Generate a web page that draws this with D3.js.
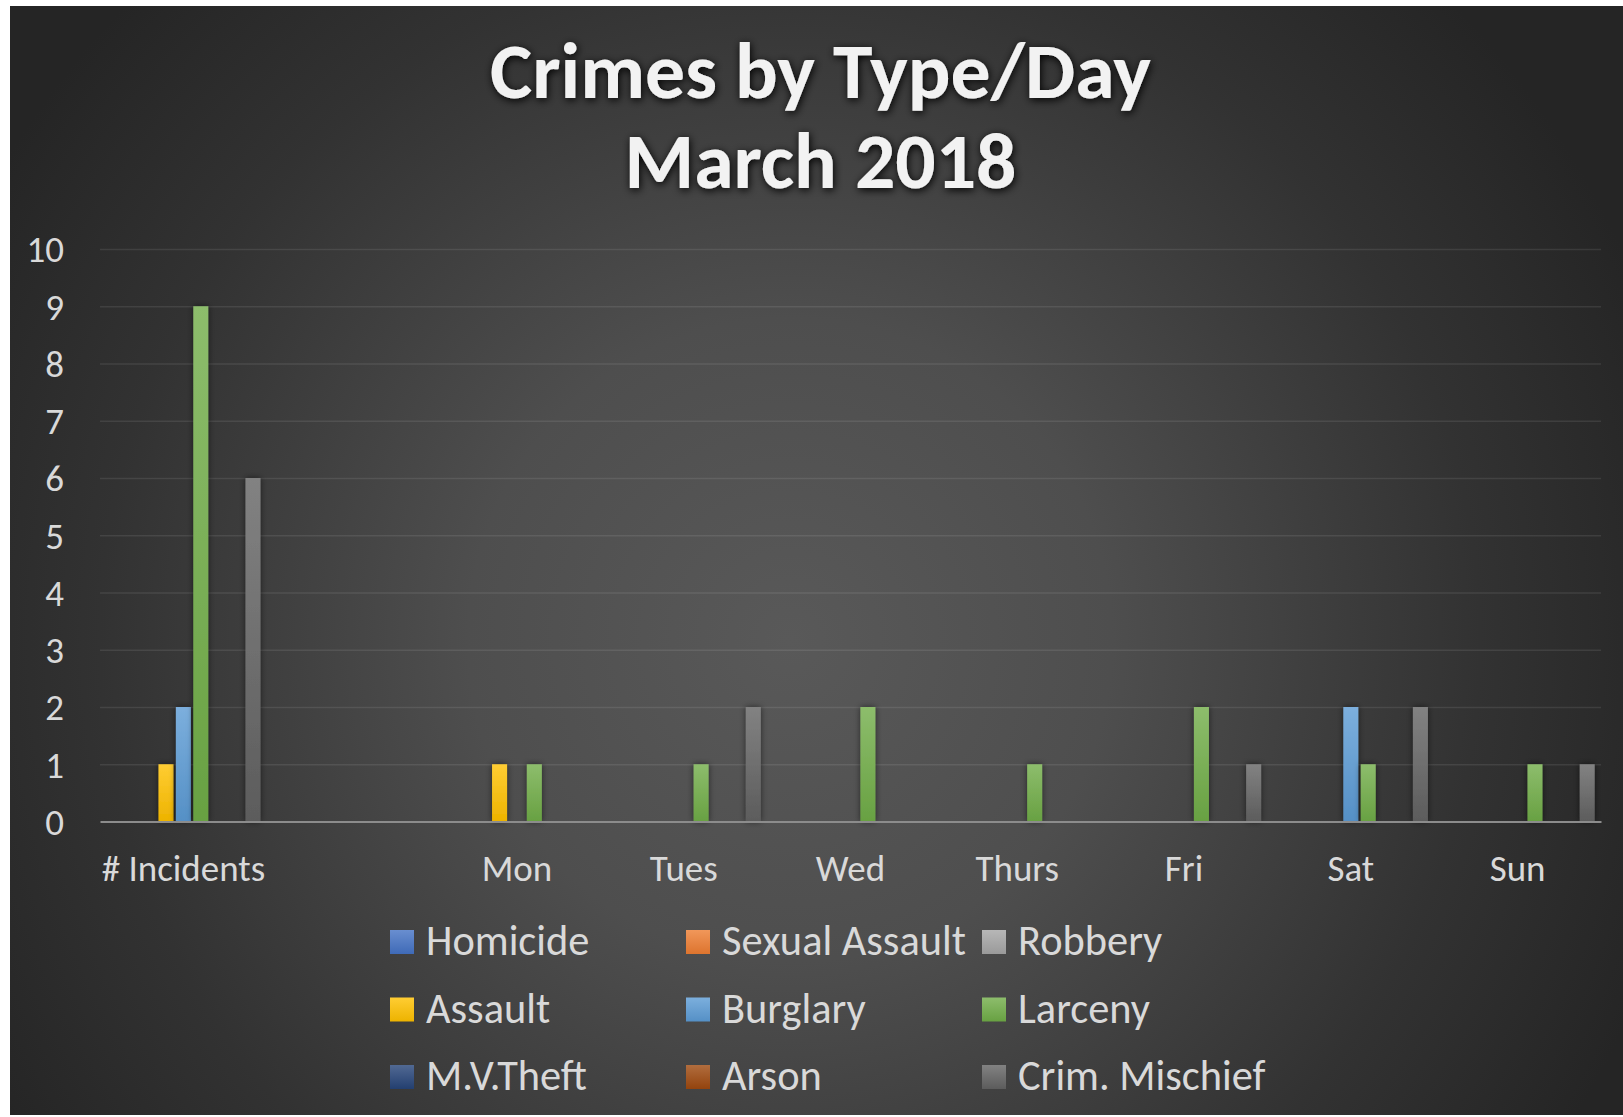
<!DOCTYPE html>
<html>
<head>
<meta charset="utf-8">
<script src="https://cdn.jsdelivr.net/npm/d3@7"></script>
<style>
  body { margin: 0; background: #fff; }
  svg { display: block; }
</style>
</head>
<body>
<div id="chart-container"></div>
<script>

const categories = ['# Incidents', '', 'Mon', 'Tues', 'Wed', 'Thurs', 'Fri', 'Sat', 'Sun']
const seriesNames = ['Homicide', 'Sexual Assault', 'Robbery', 'Assault', 'Burglary', 'Larceny', 'M.V.Theft', 'Arson', 'Crim. Mischief']
const seriesColors = ['#4472C4', '#ED7D31', '#A5A5A5', '#FFC000', '#5B9BD5', '#70AD47', '#264478', '#9E480E', '#636363']

const homicide      = [0, 0, 0, 0, 0, 0, 0, 0, 0]
const sexualAssault = [0, 0, 0, 0, 0, 0, 0, 0, 0]
const robbery       = [0, 0, 0, 0, 0, 0, 0, 0, 0]
const assault       = [1, 0, 1, 0, 0, 0, 0, 0, 0]
const burglary      = [2, 0, 0, 0, 0, 0, 0, 2, 0]
const larceny       = [9, 0, 1, 1, 2, 1, 2, 1, 1]
const mvTheft       = [0, 0, 0, 0, 0, 0, 0, 0, 0]
const arson         = [0, 0, 0, 0, 0, 0, 0, 0, 0]
const crimMischief  = [6, 0, 0, 2, 0, 0, 1, 2, 1]

const yTicks = [0, 1, 2, 3, 4, 5, 6, 7, 8, 9, 10]
const titleLines = ['Crimes by Type/Day', 'March 2018']

const seriesValues = [homicide, sexualAssault, robbery, assault, burglary, larceny, mvTheft, arson, crimMischief]

width = 1623
height = 1117
const font = 'Carlito, Calibri, Lato, sans-serif'
const plot = { left: 100, right: 1601, top: 249, bottom: 821.5 }

const svg = d3.select('#chart-container')
    .append('svg')
    .attr('width', width)
    .attr('height', height)

const defs = svg.append('defs')

const bg = defs.append('radialGradient')
    .attr('id', 'bg')
    .attr('gradientUnits', 'userSpaceOnUse')
    .attr('cx', 790).attr('cy', 640).attr('r', 920)
bg.append('stop').attr('offset', 0).attr('stop-color', '#595959')
bg.append('stop').attr('offset', 0.35).attr('stop-color', '#4e4e4e')
bg.append('stop').attr('offset', 0.75).attr('stop-color', '#323232')
bg.append('stop').attr('offset', 1).attr('stop-color', '#252525')

seriesColors.forEach((c, i) => {
    const g = defs.append('linearGradient')
        .attr('id', 'grad' + i)
        .attr('x1', 0).attr('y1', 0).attr('x2', 0).attr('y2', 1)
    g.append('stop').attr('offset', 0).attr('stop-color', d3.interpolateRgb(c, '#fff')(0.2))
    g.append('stop').attr('offset', 1).attr('stop-color', d3.color(c).darker(0.2))
})

const barShadow = defs.append('filter').attr('id', 'barShadow')
    .attr('x', '-60%').attr('y', '-10%').attr('width', '220%').attr('height', '120%')
barShadow.append('feDropShadow')
    .attr('dx', 0).attr('dy', 0).attr('stdDeviation', 3)
    .attr('flood-color', '#000').attr('flood-opacity', 0.55)

const titleShadow = defs.append('filter').attr('id', 'titleShadow')
    .attr('x', '-10%').attr('y', '-30%').attr('width', '120%').attr('height', '160%')
titleShadow.append('feDropShadow')
    .attr('dx', 1).attr('dy', 2).attr('stdDeviation', 4)
    .attr('flood-color', '#000').attr('flood-opacity', 1)

svg.append('rect')
    .attr('x', 10).attr('y', 6)
    .attr('width', width - 10).attr('height', 1109)
    .attr('fill', 'url(#bg)')

// size a font so a sample text gets the width measured on the reference
function fitSize(text, weight, target) {
    const t = svg.append('text')
        .attr('font-family', font).attr('font-weight', weight)
        .attr('font-size', 40).text(text)
    const w = t.node().getComputedTextLength()
    t.remove()
    return 40 * target / w
}

const axisSize = fitSize('# Incidents', 400, 163.5)
const legendSize = fitSize('Crim. Mischief', 400, 247.5)
const titleSize = fitSize(titleLines[0], 700, 661)

let x0 = d3.scaleBand()
    .domain(categories)
    .range([plot.left, plot.right])
    .paddingInner(0.0755)
    .paddingOuter(0.0378)

let x1 = d3.scaleBand()
    .domain(seriesNames)
    .range([0, x0.bandwidth()])
    .paddingInner(0.138)

let yScale = d3.scaleLinear()
    .domain([0, 10])
    .range([plot.bottom, plot.top])

// gridlines
const grid = svg.append('g')
    .attr('transform', 'translate(' + plot.left + ', 0)')
    .call(d3.axisLeft(yScale).tickValues(yTicks.slice(1)).tickSize(-(plot.right - plot.left)).tickFormat(''))
grid.select('.domain').remove()
grid.selectAll('line')
    .attr('stroke', 'rgba(255,255,255,0.09)')
    .attr('stroke-width', 1.5)

// y axis labels
const yAxis = svg.append('g')
    .attr('transform', 'translate(' + plot.left + ', 0)')
    .call(d3.axisLeft(yScale).tickValues(yTicks).tickSize(0).tickPadding(36))
yAxis.select('.domain').remove()
yAxis.selectAll('text')
    .attr('font-family', font)
    .attr('font-size', axisSize)
    .attr('fill', '#d9d9d9')
    .attr('dy', '0.35em')

// bars
const groups = svg.append('g')
    .selectAll('g')
    .data(categories)
    .enter()
    .append('g')
    .attr('transform', d => 'translate(' + x0(d) + ', 0)')

groups.selectAll('rect')
    .data((d, ci) => seriesNames.map((s, si) => ({ series: s, index: si, value: seriesValues[si][ci] })).filter(e => e.value > 0))
    .enter()
    .append('rect')
    .attr('x', d => x1(d.series))
    .attr('y', d => yScale(d.value))
    .attr('width', x1.bandwidth())
    .attr('height', d => plot.bottom - yScale(d.value))
    .attr('fill', d => 'url(#grad' + d.index + ')')
    .attr('filter', 'url(#barShadow)')

// x axis
const xAxis = svg.append('g')
    .attr('transform', 'translate(0, ' + plot.bottom + ')')
    .call(d3.axisBottom(x0).tickSize(0).tickSizeOuter(0))
xAxis.select('.domain')
    .attr('stroke', '#8c8c8c')
    .attr('stroke-width', 2)
xAxis.selectAll('text')
    .attr('font-family', font)
    .attr('font-size', axisSize)
    .attr('fill', '#d9d9d9')
    .attr('y', 59.5)
    .attr('dy', 0)

// title
svg.append('g')
    .attr('filter', 'url(#titleShadow)')
    .selectAll('text')
    .data(titleLines)
    .enter()
    .append('text')
    .attr('x', 820.5)
    .attr('y', (d, i) => 98 + i * 90)
    .attr('text-anchor', 'middle')
    .attr('font-family', font)
    .attr('font-weight', 700)
    .attr('font-size', titleSize)
    .attr('fill', '#f2f2f2')
    .text(d => d)

// legend
const legendCols = [390, 686, 982]
const legendRows = [942, 1009.5, 1077]

const legend = svg.append('g')
    .selectAll('g')
    .data(seriesNames)
    .enter()
    .append('g')
    .attr('transform', (d, i) => 'translate(' + legendCols[i % 3] + ', ' + legendRows[Math.floor(i / 3)] + ')')

legend.append('rect')
    .attr('x', 0).attr('y', -12)
    .attr('width', 24).attr('height', 24)
    .attr('fill', (d, i) => 'url(#grad' + i + ')')

legend.append('text')
    .attr('x', 36)
    .attr('y', 13)
    .attr('font-family', font)
    .attr('font-size', legendSize)
    .attr('fill', '#d9d9d9')
    .text(d => d)

</script>
</body>
</html>
